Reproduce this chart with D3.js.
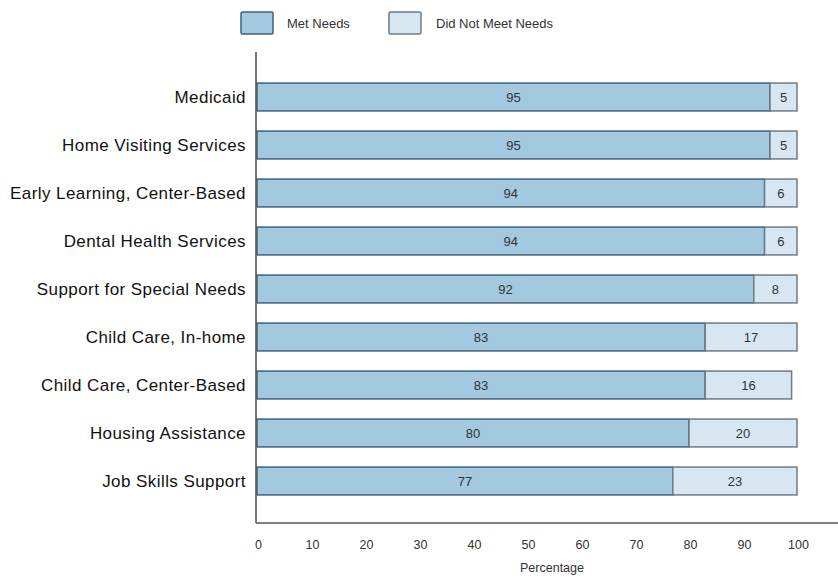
<!DOCTYPE html>
<html><head><meta charset="utf-8">
<script src="https://cdn.jsdelivr.net/npm/d3@7"></script>
<style>body{margin:0;background:#fff}svg{display:block}text{font-family:"Liberation Sans",Arial,sans-serif}</style>
</head><body>
<script>
const categories = ["Medicaid","Home Visiting Services","Early Learning, Center-Based","Dental Health Services","Support for Special Needs","Child Care, In-home","Child Care, Center-Based","Housing Assistance","Job Skills Support"];
const metNeeds = [95,95,94,94,92,83,83,80,77];
const didNotMeet = [5,5,6,6,8,17,16,20,23];
const seriesNames = ["Met Needs","Did Not Meet Needs"];
const xTicks = [0,10,20,30,40,50,60,70,80,90,100];

const W=838,H=577;
const svg=d3.select("body").append("svg").attr("width",W).attr("height",H);
const x=d3.scaleLinear().domain([0,100]).range([257,797]);
const y=d3.scaleBand().domain(categories).range([73,505]).paddingInner(0.42).paddingOuter(0.21);
const colors={met:{fill:"#a2c9e0",stroke:"#3f6177"},dnm:{fill:"#d6e7f2",stroke:"#6f7b84"}};

const g=svg.append("g");
categories.forEach((c,i)=>{
  const y0=y(c),h=y.bandwidth();
  g.append("rect").attr("x",x(0)).attr("y",y0).attr("width",x(metNeeds[i])-x(0)).attr("height",h)
    .attr("fill",colors.met.fill).attr("stroke",colors.met.stroke).attr("stroke-width",1.5);
  g.append("rect").attr("x",x(metNeeds[i])).attr("y",y0).attr("width",x(metNeeds[i]+didNotMeet[i])-x(metNeeds[i])).attr("height",h)
    .attr("fill",colors.dnm.fill).attr("stroke",colors.dnm.stroke).attr("stroke-width",1.5);
  g.append("text").attr("x",(x(0)+x(metNeeds[i]))/2).attr("y",y0+h/2).attr("dy","0.35em")
    .attr("text-anchor","middle").attr("font-size",13).attr("fill","#333").text(metNeeds[i]);
  g.append("text").attr("x",(x(metNeeds[i])+x(metNeeds[i]+didNotMeet[i]))/2).attr("y",y0+h/2).attr("dy","0.35em")
    .attr("text-anchor","middle").attr("font-size",13).attr("fill","#333").text(didNotMeet[i]);
  svg.append("text").attr("x",246).attr("y",y0+h/2).attr("dy","0.35em").attr("text-anchor","end")
    .attr("font-size",17).attr("letter-spacing","0.43px").attr("fill","#111").text(c);
});

svg.append("line").attr("x1",256).attr("x2",256).attr("y1",52).attr("y2",523).attr("stroke","#555").attr("stroke-width",1.6);
svg.append("line").attr("x1",256).attr("x2",838).attr("y1",523).attr("y2",523).attr("stroke","#555").attr("stroke-width",1.6);

const xa=svg.append("g").attr("transform","translate(1,540)").call(d3.axisBottom(x).tickValues(xTicks).tickSize(0).tickPadding(0));
xa.select(".domain").remove();
xa.selectAll("text").attr("font-size",12.5).attr("fill","#333").attr("font-family","Liberation Sans, Arial, sans-serif");
svg.append("text").attr("x",552).attr("y",568).attr("dy","0.35em").attr("text-anchor","middle").attr("font-size",12.5).attr("fill","#333").text("Percentage");

const leg=[{n:seriesNames[0],c:colors.met,x:241,tx:287},{n:seriesNames[1],c:colors.dnm,x:389,tx:436}];
leg.forEach(l=>{
  svg.append("rect").attr("x",l.x).attr("y",12).attr("width",32).attr("height",22).attr("rx",1.5)
    .attr("fill",l.c.fill).attr("stroke",l.c.stroke).attr("stroke-width",1.5);
  svg.append("text").attr("x",l.tx).attr("y",23).attr("dy","0.35em").attr("font-size",13).attr("fill","#333").text(l.n);
});
</script>
</body></html>
